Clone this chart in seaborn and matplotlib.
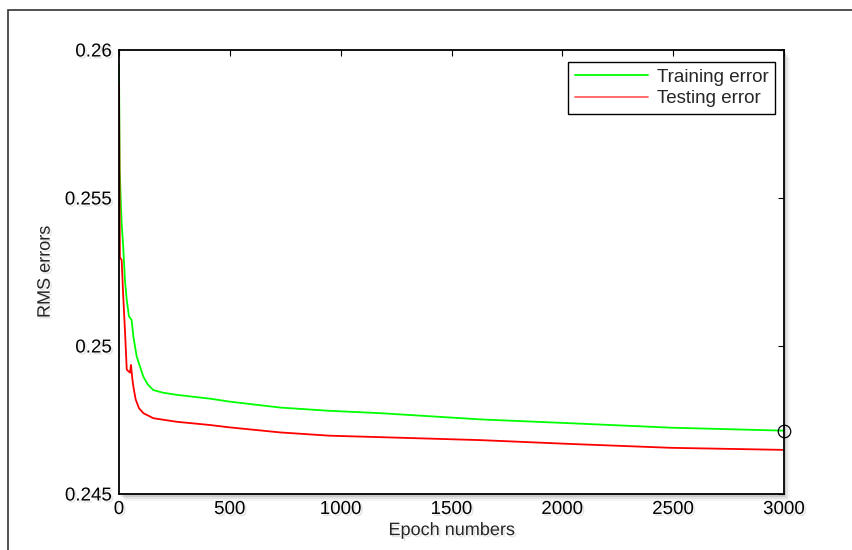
import matplotlib
matplotlib.use("Agg")
import matplotlib.pyplot as plt
import matplotlib.patheffects as pe
from matplotlib.patches import Rectangle
import pandas as pd
import seaborn as sns

# values
train_epochs = [0, 3, 8, 12, 19, 27, 35, 45, 57, 65, 80, 95, 110, 130, 155, 200, 260,
                411, 500, 728, 950, 1180, 1632, 2039, 2491, 3000]
train_rms = [0.2595, 0.2560, 0.2549, 0.25414, 0.25335, 0.2522, 0.25155, 0.2510, 0.25088,
             0.25031, 0.24964, 0.2493, 0.24896, 0.2487, 0.24851, 0.24842, 0.24835,
             0.24822, 0.24812, 0.24792, 0.24781, 0.24773, 0.24752, 0.24739, 0.24724, 0.24714]

test_epochs = [0, 4, 12, 19, 27, 35, 50, 54, 60, 65, 75, 90, 110, 155, 260,
               411, 500, 728, 950, 1180, 1632, 2039, 2491, 3000]
test_rms = [0.2588, 0.2530, 0.2529, 0.2517, 0.2505, 0.2492, 0.2491, 0.24936, 0.2489,
            0.24862, 0.2482, 0.2479, 0.24773, 0.24756, 0.24744,
            0.24733, 0.24725, 0.24708, 0.24697, 0.24692, 0.24682, 0.24669, 0.24656, 0.24649]

x_ticks = [0, 500, 1000, 1500, 2000, 2500, 3000]
y_ticks = [0.245, 0.25, 0.255, 0.26]
y_tick_labels = ["0.245", "0.25", "0.255", "0.26"]

df = pd.concat([
    pd.DataFrame({"epoch": train_epochs, "rms": train_rms, "set": "Training error"}),
    pd.DataFrame({"epoch": test_epochs, "rms": test_rms, "set": "Testing error"}),
])

sns.set_style("white")
plt.rcParams["font.family"] = ["Liberation Sans", "DejaVu Sans"]

fig = plt.figure(figsize=(8.52, 5.5), dpi=100)
ax = fig.add_axes([119 / 852, 56 / 550, 665 / 852, 444 / 550])
ax.set_zorder(2)
ax.set_facecolor("white")

# outer frame of the original screenshot
fig.patches.append(Rectangle((8 / 852, -0.1), 1.2, (540 / 550) + 0.1, fill=False,
                             edgecolor="#333333", lw=1.2, transform=fig.transFigure))
# soft shadow right/below of the axes
for i, a in enumerate([0.10, 0.07, 0.04]):
    fig.patches.append(Rectangle(((119 + 2 + 2 * i) / 852, (56 - 3 - 2 * i) / 550),
                                 665 / 852, 444 / 550, facecolor="black", alpha=a,
                                 edgecolor="none", transform=fig.transFigure, zorder=0))

sns.lineplot(data=df, x="epoch", y="rms", hue="set",
             palette={"Training error": "#00ff00", "Testing error": "#ff0000"},
             linewidth=1.3, ax=ax, legend=False, sort=False, estimator=None)

ax.plot([train_epochs[-1]], [train_rms[-1]], marker="o", markersize=9, mfc="none",
        mec="black", mew=0.9, clip_on=False, zorder=5)

ax.set_xlim(0, 3000)
ax.set_ylim(0.245, 0.26)
ax.set_xticks(x_ticks)
ax.set_yticks(y_ticks)
ax.set_yticklabels(y_tick_labels)
ax.tick_params(direction="in", length=4, width=0.8, top=True, right=True,
               labelsize=13.5, colors="black", pad=5)
for s in ax.spines.values():
    s.set_color("black")
    s.set_linewidth(1.3)

shadow = [pe.withSimplePatchShadow(offset=(1.5, -1.5), shadow_rgbFace="gray", alpha=0.2)]
ax.set_xlabel("Epoch numbers", fontsize=13, labelpad=3, path_effects=shadow)
ax.set_ylabel("RMS errors", fontsize=13, labelpad=8, path_effects=shadow)
for t in ax.get_xticklabels() + ax.get_yticklabels():
    t.set_path_effects(shadow)

handles = [plt.Line2D([], [], color="#00ff00", lw=1.3),
           plt.Line2D([], [], color="#ff6060", lw=1.3)]
leg = ax.legend(handles, ["Training error", "Testing error"], loc="upper right",
                bbox_to_anchor=(0.987, 0.973), fontsize=13.5, handlelength=3.9,
                fancybox=False, framealpha=1, edgecolor="black", borderpad=0.35,
                labelspacing=0.25, handletextpad=0.5, borderaxespad=0)
leg.get_frame().set_linewidth(1.0)

fig.savefig("out.png", dpi=100)
